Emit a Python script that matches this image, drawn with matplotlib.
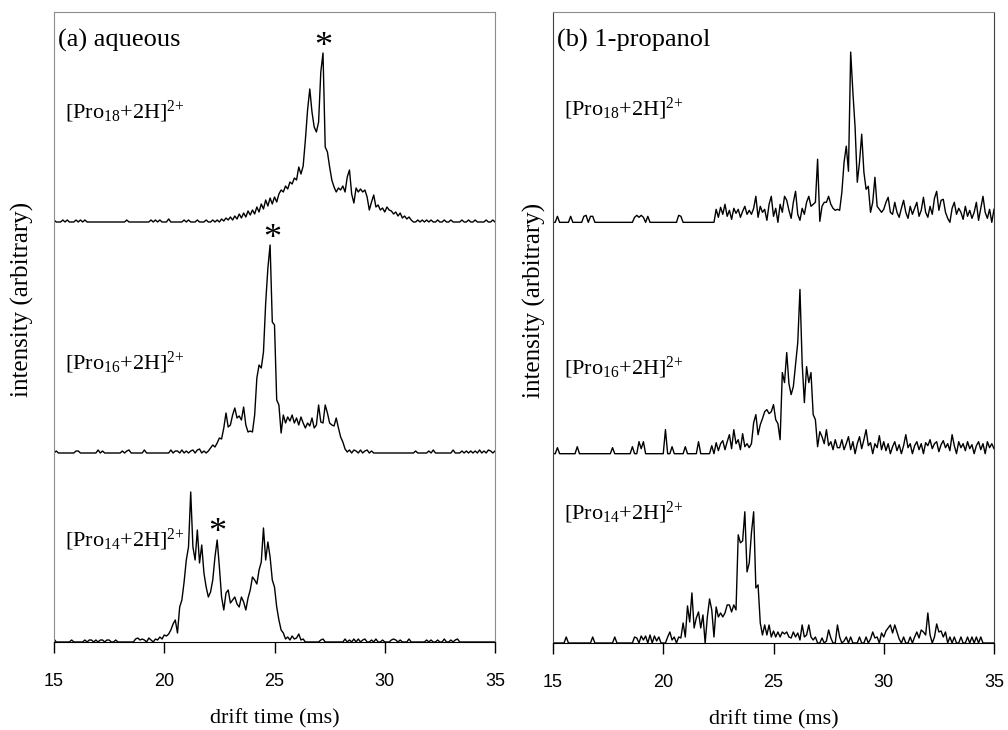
import matplotlib.pyplot as plt
import numpy as np

plt.rcParams['font.family'] = ['Liberation Serif', 'DejaVu Serif']
plt.rcParams['mathtext.fontset'] = 'custom'
plt.rcParams['mathtext.rm'] = 'Liberation Serif'
plt.rcParams['mathtext.it'] = 'Liberation Serif:italic'

# drift time axis (ms), sampled every 0.1 ms
drift_time = np.round(np.arange(15.0, 35.05, 0.1), 1)

# (a) aqueous, intensities (arbitrary units)
aq_pro18 = [
    2, 0, 0, 0, 2, 0, 2, 0, 0, 0,
    2, 0, 2, 0, 2, 0, 0, 0, 0, 0,
    0, 0, 0, 0, 0, 0, 0, 0, 0, 0,
    0, 0, 0, 2, 0, 0, 0, 0, 0, 0,
    0, 0, 0, 0, 2, 0, 2, 0, 2, 0,
    0, 0, 3, 0, 0, 0, 0, 0, 0, 2,
    0, 2, 0, 0, 0, 2, 0, 0, 0, 2,
    0, 0, 2, 0, 2, 0, 3, 1, 4, 2,
    5, 2, 6, 3, 8, 4, 9, 5, 11, 7,
    12, 8, 15, 10, 18, 13, 22, 16, 24, 18,
    25, 20, 28, 32, 30, 36, 33, 40, 38, 44,
    42, 55, 48, 56, 82, 112, 133, 110, 95, 90,
    100, 150, 169, 75, 70, 55, 42, 35, 30, 34,
    32, 36, 30, 45, 52, 28, 19, 34, 30, 33,
    30, 32, 25, 12, 20, 27, 15, 17, 12, 14,
    10, 15, 12, 11, 8, 10, 6, 9, 4, 6,
    3, 5, 2, 0, 0, 2, 0, 2, 0, 2,
    0, 2, 0, 0, 2, 0, 0, 2, 0, 0,
    2, 0, 0, 0, 0, 2, 0, 0, 2, 0,
    0, 2, 0, 0, 0, 0, 2, 0, 0, 2,
    0]

aq_pro16 = [
    0, 2, 0, 0, 0, 0, 0, 0, 0, 0,
    2, 2, 0, 0, 0, 0, 0, 0, 0, 0,
    3, 0, 2, 0, 0, 0, 0, 0, 0, 0,
    0, 2, 0, 2, 3, 0, 0, 0, 0, 0,
    0, 3, 0, 0, 0, 0, 0, 0, 0, 0,
    0, 0, 0, 3, 0, 2, 2, 0, 3, 0,
    2, 0, 2, 3, 0, 3, 4, 0, 2, 0,
    2, 5, 8, 6, 10, 15, 14, 25, 40, 26,
    28, 38, 45, 35, 37, 33, 46, 28, 21, 22,
    21, 38, 75, 88, 85, 101, 150, 185, 208, 131,
    128, 53, 48, 20, 38, 30, 36, 32, 38, 30,
    35, 28, 36, 30, 25, 30, 27, 35, 25, 28,
    48, 31, 30, 48, 40, 30, 28, 27, 35, 25,
    16, 11, 4, 1, 3, 0, 3, 2, 0, 3,
    0, 2, 3, 0, 2, 0, 0, 0, 0, 0,
    0, 0, 0, 0, 0, 0, 0, 0, 0, 0,
    0, 0, 0, 0, 2, 0, 0, 0, 0, 0,
    2, 0, 3, 0, 0, 0, 0, 0, 0, 0,
    0, 3, 0, 0, 0, 2, 0, 2, 0, 2,
    0, 2, 0, 3, 0, 2, 0, 3, 2, 0,
    2]

aq_pro14 = [
    3, 0, 0, 0, 0, 0, 0, 0, 2, 0,
    0, 0, 0, 0, 2, 0, 2, 2, 0, 2,
    0, 2, 2, 0, 2, 2, 0, 0, 2, 0,
    0, 0, 0, 0, 0, 0, 0, 3, 4, 2,
    3, 2, 0, 4, 2, 0, 3, 2, 5, 3,
    7, 6, 8, 12, 18, 22, 9, 35, 42, 60,
    82, 95, 150, 95, 82, 112, 79, 97, 69, 55,
    45, 50, 62, 85, 102, 75, 45, 32, 49, 52,
    39, 42, 45, 38, 35, 45, 40, 32, 44, 52,
    65, 62, 58, 72, 80, 114, 82, 100, 85, 62,
    55, 35, 22, 12, 9, 3, 5, 2, 6, 3,
    4, 8, 2, 3, 0, 0, 0, 0, 0, 0,
    0, 2, 3, 0, 0, 0, 0, 0, 0, 0,
    0, 0, 3, 0, 2, 0, 3, 0, 3, 0,
    2, 3, 0, 0, 2, 0, 3, 0, 0, 2,
    0, 0, 0, 2, 3, 2, 0, 2, 0, 0,
    0, 3, 0, 0, 0, 0, 0, 0, 0, 2,
    0, 2, 0, 0, 2, 0, 0, 3, 0, 0,
    2, 0, 2, 3, 0, 0, 0, 0, 0, 0,
    0, 0, 0, 0, 0, 0, 0, 0, 0, 0,
    0]

# (b) 1-propanol
pr_pro18 = [
    0, 0, 6, 0, 0, 0, 0, 0, 6, 0,
    0, 0, 0, 0, 6, 7, 0, 6, 6, 0,
    0, 0, 0, 0, 0, 0, 0, 0, 0, 0,
    0, 0, 0, 0, 0, 0, 0, 5, 7, 5,
    7, 5, 0, 6, 0, 0, 0, 0, 0, 0,
    0, 0, 0, 0, 0, 0, 0, 7, 6, 0,
    0, 0, 0, 0, 0, 0, 0, 0, 0, 0,
    0, 0, 0, 0, 13, 5, 15, 8, 18, 6,
    12, 3, 14, 9, 13, 5, 11, 16, 8, 12,
    8, 14, 26, 5, 16, 10, 13, 2, 18, 26,
    6, 14, 0, 18, 10, 26, 22, 12, 4, 20,
    31, 8, 2, 14, 8, 20, 26, 16, 18, 20,
    63, 1, 16, 20, 20, 26, 18, 14, 12, 13,
    12, 30, 60, 76, 51, 170, 130, 95, 40, 60,
    88, 50, 33, 36, 10, 20, 45, 16, 13, 10,
    13, 20, 25, 10, 8, 20, 10, 5, 14, 22,
    10, 4, 16, 8, 14, 20, 6, 12, 25, 10,
    5, 16, 8, 24, 31, 12, 22, 23, 10, 4,
    0, 14, 20, 8, 14, 10, 3, 16, 6, 12,
    4, 10, 20, 2, 14, 26, 10, 4, 13, 0,
    13]

pr_pro16 = [
    0, 0, 6, 0, 0, 0, 0, 0, 0, 0,
    0, 7, 0, 0, 0, 0, 0, 0, 0, 0,
    0, 0, 0, 0, 0, 0, 0, 6, 0, 0,
    0, 0, 0, 0, 0, 0, 7, 0, 0, 12,
    5, 12, 0, 0, 0, 0, 0, 0, 0, 0,
    0, 24, 0, 0, 7, 0, 0, 0, 0, 0,
    7, 0, 0, 0, 0, 0, 12, 0, 0, 0,
    0, 0, 8, 0, 11, 3, 10, 13, 4, 12,
    19, 5, 24, 10, 14, 4, 20, 7, 10, 6,
    10, 31, 39, 19, 29, 35, 42, 44, 40, 42,
    49, 34, 30, 14, 81, 71, 101, 70, 59, 67,
    89, 111, 164, 90, 51, 87, 71, 81, 39, 34,
    7, 22, 17, 10, 24, 8, 12, 4, 14, 6,
    6, 14, 4, 10, 17, 4, 12, 0, 10, 17,
    5, 14, 24, 8, 11, 0, 10, 6, 18, 4,
    12, 3, 10, 0, 7, 12, 3, 9, 0, 8,
    19, 6, 10, 0, 8, 12, 4, 10, 0, 11,
    8, 14, 5, 10, 12, 2, 9, 13, 6, 10,
    3, 19, 8, 0, 12, 6, 10, 3, 12, 5,
    9, 0, 8, 12, 4, 10, 0, 12, 6, 10,
    5]

pr_pro14 = [
    0, 0, 0, 0, 0, 0, 6, 0, 0, 0,
    0, 0, 0, 0, 0, 0, 0, 0, 6, 0,
    0, 0, 0, 0, 0, 0, 0, 0, 6, 0,
    0, 0, 0, 0, 0, 0, 0, 6, 5, 0,
    7, 3, 7, 0, 8, 0, 7, 2, 6, 0,
    0, 0, 6, 11, 3, 6, 0, 6, 5, 20,
    6, 37, 21, 50, 15, 25, 31, 15, 28, 0,
    26, 44, 33, 6, 36, 26, 30, 26, 30, 38,
    38, 31, 38, 33, 108, 100, 102, 131, 71, 80,
    110, 131, 55, 58, 20, 8, 18, 8, 18, 6,
    12, 6, 11, 6, 11, 9, 11, 6, 5, 11,
    6, 10, 3, 18, 6, 8, 18, 6, 3, 6,
    0, 0, 5, 0, 2, 13, 5, 0, 0, 18,
    6, 0, 2, 6, 0, 6, 0, 0, 0, 6,
    0, 0, 6, 0, 4, 11, 5, 6, 0, 10,
    6, 12, 15, 18, 10, 18, 11, 4, 0, 6,
    0, 0, 6, 0, 6, 11, 5, 13, 11, 8,
    30, 8, 0, 6, 19, 11, 12, 6, 11, 0,
    6, 0, 6, 0, 0, 6, 0, 0, 6, 0,
    6, 0, 6, 0, 6, 0, 0, 0, 0, 0,
    0]

ion_labels = [r'[Pro$_{14}$+2H]$^{2{+}}$', r'[Pro$_{16}$+2H]$^{2{+}}$',
              r'[Pro$_{18}$+2H]$^{2{+}}$']
offsets = [0, 189, 420]

aq_label_y = [102, 279, 530]
pr_label_y = [130, 275, 533]
# asterisks marking the selected features in (a)
aq_star_x = [22.4, 24.9, 27.2]
aq_star_y = [100, 394, 586]


def draw_panel(ax, traces, label_y, title, side_color):
    for trace, off, lab, ly in zip(traces, offsets, ion_labels, label_y):
        ax.plot(drift_time, np.array(trace) + off, color='black', lw=1.0)
        ax.text(15.5, ly, lab, fontsize=16, ha='left', va='center')
    ax.text(15.2, 602, title, fontsize=19, ha='left', va='center')
    ax.set_xlim(15, 35)
    ax.set_ylim(0, 630)
    ax.set_xticks([15, 20, 25, 30, 35])
    ax.set_yticks([])
    ax.tick_params(axis='x', direction='out', length=8, width=1, pad=14,
                   labelsize=13)
    for lbl in ax.get_xticklabels():
        lbl.set_fontfamily('Liberation Sans')
    for side in ['left', 'right', 'top']:
        ax.spines[side].set_color(side_color)
    ax.spines['bottom'].set_color('black')
    ax.set_xlabel('drift time (ms)', fontsize=16, labelpad=14)
    ax.set_ylabel('intensity (arbitrary)', fontsize=18)


fig = plt.figure(figsize=(10.08, 7.30), dpi=100)
ax_a = fig.add_axes([54 / 1008, 88 / 730, 441 / 1008, 630 / 730])
ax_b = fig.add_axes([553 / 1008, 87 / 730, 441 / 1008, 631 / 730])

draw_panel(ax_a, [aq_pro14, aq_pro16, aq_pro18], aq_label_y, '(a) aqueous', '#8c8c8c')
draw_panel(ax_b, [pr_pro14, pr_pro16, pr_pro18], pr_label_y, '(b) 1-propanol', '#404040')
ax_b.spines['top'].set_color('#8c8c8c')

for sx, sy in zip(aq_star_x, aq_star_y):
    ax_a.text(sx, sy, '*', fontsize=26, ha='center', va='baseline')

ax_a.yaxis.set_label_coords(-0.046, 0.543)
ax_b.yaxis.set_label_coords(-0.017, 0.543)

fig.savefig('out.png', dpi=100)
